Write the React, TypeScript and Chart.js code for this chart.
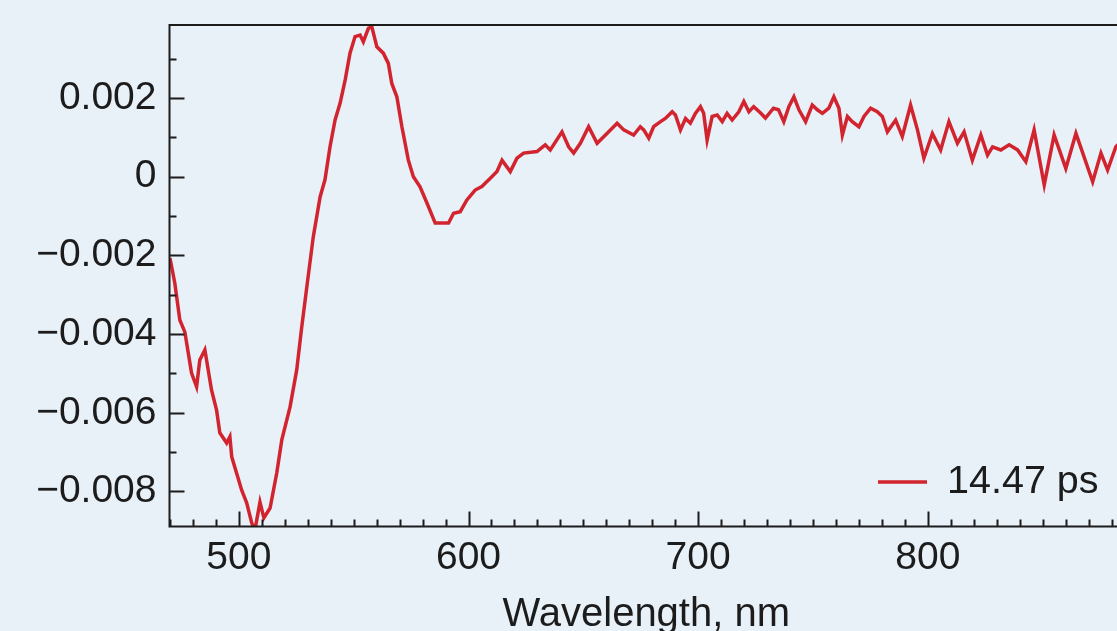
import { useEffect, useRef } from 'react';
import { Chart, registerables } from 'chart.js';

Chart.register(...registerables);

// ---- data ----
const wavelengths = [
  470.0, 472.1, 474.3, 476.5, 479.4, 481.6, 483.0, 485.2, 488.1, 490.3, 491.7, 494.7, 496.1, 496.9, 499.0,
  501.2, 503.4, 505.6, 507.0, 509.2, 510.9, 513.6, 516.5, 518.7, 522.3, 525.2, 527.4, 529.6, 532.4, 535.4,
  537.5, 539.7, 541.9, 544.1, 546.3, 548.4, 550.6, 552.8, 554.2, 556.4, 557.9, 560.1, 562.9, 565.1, 566.6,
  568.8, 571.0, 573.8, 576.0, 578.9, 581.9, 585.5, 589.1, 591.3, 593.5, 596.4, 599.3, 602.9, 605.8, 609.5,
  612.4, 614.6, 618.2, 621.1, 624.0, 629.8, 633.4, 635.6, 640.7, 643.6, 645.8, 648.7, 652.3, 656.0, 660.3,
  664.7, 667.6, 671.9, 674.8, 676.3, 678.5, 680.6, 683.6, 685.7, 688.7, 690.1, 692.3, 694.5, 696.6, 698.8,
  701.0, 702.4, 703.9, 706.1, 708.3, 710.5, 712.6, 714.8, 717.7, 719.9, 722.1, 724.2, 727.2, 729.3, 732.8,
  735.0, 737.3, 739.5, 741.7, 743.9, 746.8, 749.7, 751.9, 754.1, 756.9, 759.1, 761.3, 762.8, 765.0, 767.1,
  770.0, 772.2, 775.1, 778.0, 780.2, 782.4, 786.0, 788.9, 792.5, 795.5, 798.3, 802.0, 805.6, 809.2, 812.9,
  815.8, 819.4, 823.1, 826.0, 828.2, 831.8, 835.4, 839.1, 842.7, 846.3, 850.7, 855.0, 860.1, 864.5, 871.8,
  875.4, 878.3, 881.9, 885.0,
];

const deltaA = [
  -0.00207, -0.0027, -0.00364, -0.00395, -0.00499, -0.00534, -0.00466, -0.0044, -0.00542, -0.00593, -0.00651, -0.00677, -0.00661, -0.00712, -0.00753,
  -0.00796, -0.00829, -0.0088, -0.00898, -0.00827, -0.00867, -0.00842, -0.00753, -0.00669, -0.00585, -0.00491, -0.00381, -0.0028, -0.00153, -0.00051,
  -0.00008, 0.00076, 0.00144, 0.00187, 0.00246, 0.00314, 0.00356, 0.0036, 0.00343, 0.00377, 0.00381, 0.0033, 0.00314, 0.00288, 0.00237,
  0.00203, 0.00127, 0.00042, 0.0, -0.00026, -0.00067, -0.00118, -0.00118, -0.00118, -0.00093, -0.00089, -0.00059, -0.00034, -0.00025, -0.00004,
  0.00013, 0.00042, 0.00013, 0.00047, 0.0006, 0.00064, 0.00081, 0.00068, 0.00114, 0.00076, 0.0006, 0.00085, 0.00127, 0.00085, 0.0011,
  0.00136, 0.00119, 0.00106, 0.00127, 0.00119, 0.00098, 0.00127, 0.0014, 0.00148, 0.00165, 0.00157, 0.00119, 0.00148, 0.00136, 0.00161,
  0.00178, 0.00161, 0.00093, 0.00153, 0.00157, 0.0014, 0.00161, 0.00144, 0.00165, 0.00191, 0.00165, 0.00178, 0.00162, 0.00149, 0.00174,
  0.0017, 0.0014, 0.00178, 0.00203, 0.0017, 0.0014, 0.00182, 0.0017, 0.00161, 0.00174, 0.00203, 0.00174, 0.00106, 0.00153, 0.0014,
  0.00127, 0.00153, 0.00174, 0.00165, 0.00153, 0.00114, 0.00144, 0.00102, 0.00182, 0.00119, 0.00047, 0.0011, 0.00068, 0.0014, 0.00085,
  0.00114, 0.00042, 0.00106, 0.00055, 0.00076, 0.00068, 0.00081, 0.00068, 0.00038, 0.00119, -0.00021, 0.00106, 0.00021, 0.0011, -0.00013,
  0.0006, 0.00017, 0.00076, 0.00093,
];

const seriesLabel = '14.47 ps';
const xTitle = 'Wavelength, nm';
const xTickValues = [500, 600, 700, 800];
const yTickValues = [-0.008, -0.006, -0.004, -0.002, 0, 0.002];
const xRange = [469.8, 885];
const yRange = [-0.00889, 0.003855];

// ---- style ----
const BG = '#e8f0f8';
const LINE = 'rgb(210,36,46)';
const INK = '#1c1c1c';
const FONT = "'Liberation Sans', Arial, sans-serif";

const frameTicksPlugin = {
  id: 'frameTicks',
  afterDraw(chart: any) {
    const { ctx, chartArea: ca, scales } = chart;
    const xs = scales.x;
    const ys = scales.y;
    ctx.save();
    ctx.strokeStyle = INK;
    ctx.lineWidth = 2;
    // frame
    ctx.strokeRect(ca.left, ca.top, ca.right - ca.left, ca.bottom - ca.top);
    // x ticks (inward, from bottom)
    ctx.beginPath();
    for (let k = Math.ceil(xs.min / 10); k * 10 <= xs.max; k++) {
      const px = Math.round(xs.getPixelForValue(k * 10)) + 0.5;
      const len = k % 10 === 0 ? 15 : 7;
      ctx.moveTo(px, ca.bottom);
      ctx.lineTo(px, ca.bottom - len);
    }
    // y ticks (inward, from left)
    for (let k = Math.ceil(ys.min * 1000 - 1e-9); k / 1000 <= ys.max; k++) {
      const py = Math.round(ys.getPixelForValue(k / 1000)) + 0.5;
      const len = k % 2 === 0 ? 15 : 7;
      ctx.moveTo(ca.left, py);
      ctx.lineTo(ca.left + len, py);
    }
    ctx.stroke();

    // legend (bottom-right, inside plot)
    const ds = chart.data.datasets[0];
    const ly = ca.bottom - 44.5;
    ctx.strokeStyle = ds.borderColor;
    ctx.lineWidth = 3.5;
    ctx.beginPath();
    ctx.moveTo(ca.right - 245, ly);
    ctx.lineTo(ca.right - 196, ly);
    ctx.stroke();
    ctx.fillStyle = INK;
    ctx.font = `39.5px ${FONT}`;
    ctx.textAlign = 'left';
    ctx.textBaseline = 'middle';
    ctx.fillText(ds.label, ca.right - 176, ly);
    ctx.restore();
  },
};

function fmtY(v: number) {
  if (Math.abs(v) < 1e-12) return '0';
  return (v < 0 ? '\u2212' : '') + Math.abs(v).toFixed(3);
}

export default function App() {
  const ref = useRef<HTMLCanvasElement | null>(null);

  useEffect(() => {
    document.body.style.margin = '0';
    document.body.style.background = BG;
    if (!ref.current) return;
    const chart = new Chart(ref.current, {
      type: 'line',
      data: {
        datasets: [
          {
            label: seriesLabel,
            data: wavelengths.map((x, i) => ({ x, y: deltaA[i] })),
            borderColor: LINE,
            borderWidth: 3.5,
            pointRadius: 0,
            tension: 0,
            fill: false,
          },
        ],
      },
      options: {
        responsive: false,
        animation: false,
        layout: { padding: { top: 25, left: 0, right: 0, bottom: 0 } },
        plugins: { legend: { display: false }, tooltip: { enabled: false } },
        scales: {
          x: {
            type: 'linear',
            min: xRange[0],
            max: xRange[1],
            grid: { display: false, drawTicks: false },
            border: { display: false },
            ticks: { padding: 8, color: INK, font: { family: FONT, size: 39 }, maxRotation: 0 },
            afterBuildTicks: (s: any) => {
              s.ticks = xTickValues.map((value) => ({ value }));
            },
            afterFit: (s: any) => {
              s.height = 113.5;
              s.paddingLeft = 0;
              s.paddingRight = 0;
            },
            title: {
              display: true,
              text: xTitle,
              color: INK,
              font: { family: FONT, size: 40 },
              padding: { top: 0, bottom: 1.5 },
            },
          },
          y: {
            type: 'linear',
            min: yRange[0],
            max: yRange[1],
            grid: { display: false, drawTicks: false },
            border: { display: false },
            ticks: {
              padding: 13,
              color: INK,
              font: { family: FONT, size: 39 },
              callback: (v: any) => fmtY(Number(v)),
            },
            afterBuildTicks: (s: any) => {
              s.ticks = yTickValues.map((value) => ({ value }));
            },
            afterFit: (s: any) => {
              s.width = 169.5;
              s.paddingTop = 0;
              s.paddingBottom = 0;
            },
          },
        },
      },
      plugins: [frameTicksPlugin],
    });
    return () => chart.destroy();
  }, []);

  return (
    <div style={{ width: 1117, height: 631, overflow: 'hidden', background: BG, position: 'relative' }}>
      <canvas ref={ref} width={1123} height={640} style={{ display: 'block' }} />
    </div>
  );
}
